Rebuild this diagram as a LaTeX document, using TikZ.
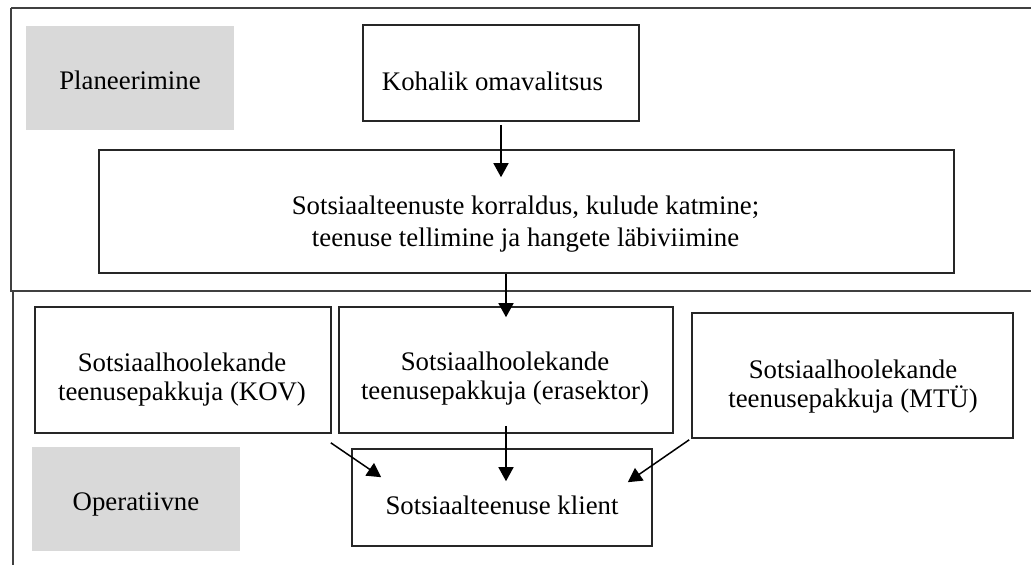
\documentclass[tikz,border=0pt]{standalone}
\usepackage{fontspec}
\setmainfont{Liberation Serif}
\usetikzlibrary{arrows.meta}

\tikzset{
  frame/.style={draw=black!75, line width=2pt},
  box/.style={draw=black!85, line width=1.6pt, inner sep=0pt},
  levelbox/.style={fill=black!15, inner sep=0pt},
  txt/.style={inner sep=0pt, align=center, font=\fontsize{26.8pt}{29pt}\selectfont},
  arr/.style={line width=1.5pt, -{Triangle[width=15pt,length=14pt]}}
}

\begin{document}
\begin{tikzpicture}[x=1pt,y=-1pt]
\useasboundingbox (0,0) rectangle (1031,565);

% frames of the two levels
\draw[frame, line width=2.6pt] (1031,8) -- (11,8);
\draw[frame] (11,8) -- (11,291) -- (1031,291);
\draw[frame] (13,291) -- (13,565);

% planning level
\node[levelbox, minimum width=208pt, minimum height=104pt] (plan) at (130,78) {};
\node[txt] (plantext) at (130,80) {Planeerimine};

\node[box, minimum width=276pt, minimum height=96pt] (kohalik) at (501,73) {};
\node[txt] (kohaliktext) at (492.5,81) {Kohalik omavalitsus};

\node[box, minimum width=855pt, minimum height=123pt] (korraldus) at (526.5,211.5) {};
\node[txt, font=\fontsize{26.8pt}{32pt}\selectfont] (korraldustext) at (525.5,224)
  {Sotsiaalteenuste korraldus, kulude katmine;\\ teenuse tellimine ja hangete läbiviimine};

% operative level
\node[box, minimum width=296pt, minimum height=126pt] (kov) at (183,370) {};
\node[txt] (kovtext) at (182,380) {Sotsiaalhoolekande\\teenusepakkuja (KOV)};

\node[box, minimum width=334pt, minimum height=126pt] (eras) at (506,370) {};
\node[txt] (erastext) at (505,379) {Sotsiaalhoolekande\\teenusepakkuja (erasektor)};

\node[box, minimum width=321pt, minimum height=125pt] (mtu) at (852.5,375.5) {};
\node[txt] (mtutext) at (853,387) {Sotsiaalhoolekande\\teenusepakkuja (MTÜ)};

\node[levelbox, minimum width=208pt, minimum height=104pt] (oper) at (136,499) {};
\node[txt] (opertext) at (136,504) {Operatiivne};

\node[box, minimum width=300pt, minimum height=97pt] (klient) at (502,497.5) {};
\node[txt] (klienttext) at (502,505) {Sotsiaalteenuse klient};

% arrows
\draw[arr] ([yshift=-3pt]kohalik.south) -- ([yshift=-28pt]korraldus.north -| kohalik.south);
\draw[arr] (eras.north |- korraldus.south) -- ([yshift=-11pt]eras.north);
\draw[arr] ([yshift=8pt]eras.south) -- ([yshift=-33pt]eras.south |- klient.north);
\draw[arr] ([shift={(-1pt,-9pt)}]kov.south east) -- ([shift={(30pt,-29pt)}]klient.north west);
\draw[arr] ([shift={(-2pt,-1pt)}]mtu.south west) -- ([shift={(-25pt,-34pt)}]klient.north east);

\end{tikzpicture}
\end{document}
